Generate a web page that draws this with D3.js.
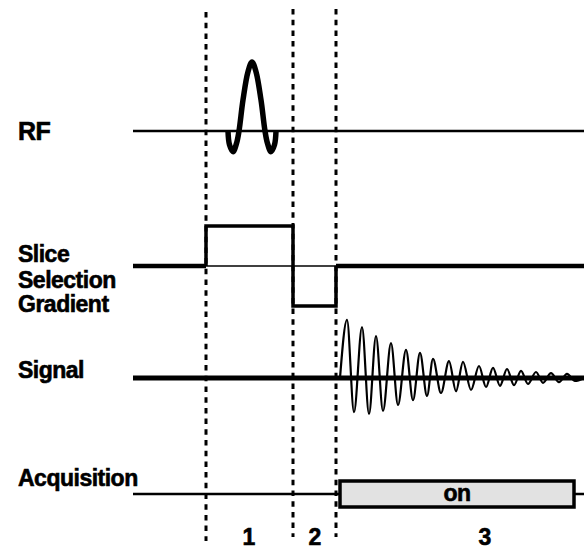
<!DOCTYPE html>
<html><head><meta charset="utf-8">
<script src="https://cdn.jsdelivr.net/npm/d3@7"></script>
<style>html,body{margin:0;padding:0;background:#fff;} svg{display:block}</style>
</head><body><svg id="c" width="584" height="550"></svg>
<script>
// ---- data (time in arbitrary units, amplitudes normalised) ----
const timeExtent = [0, 451];
const phaseBoundaries = [73, 160, 203];
const phaseLabels = ["1", "2", "3"];
const phaseCenters = [116, 182, 352];

const rowLabels = ["RF", "Slice", "Selection", "Gradient", "Signal", "Acquisition"];

// RF sinc pulse
const rfTimes = [95, 96.5, 100, 103.5, 106, 110, 115, 119, 123, 128, 132, 134.5, 138, 141.5, 143];
const rfAmps  = [0, -0.2, -0.3, -0.18, 0, 0.45, 0.86, 1, 0.86, 0.45, 0, -0.18, -0.3, -0.2, 0];

// Slice selection gradient (step after)
const gradTimes = [73, 160, 203];
const gradAmps  = [1, -1, 0];

// FID signal extremes
const sigTimes = [207, 214, 221, 229, 236, 243, 250, 258, 265, 273, 280, 287, 294, 300, 308, 316, 323,
                  330, 338, 346, 353, 360, 367, 374, 381, 388, 395, 403, 410, 418, 426, 434, 442, 451];
const sigAmps  = [0, 0.97, -0.57, 0.85, -0.6, 0.70, -0.55, 0.58, -0.45, 0.47, -0.37, 0.42, -0.30, 0.32, -0.25, 0.28, -0.22,
                  0.27, -0.20, 0.20, -0.15, 0.17, -0.13, 0.15, -0.12, 0.12, -0.10, 0.10, -0.08, 0.08, -0.07, 0.07, -0.05, 0];

// Acquisition window
const acqWindow = [207, 441];
const acqLabel = "on";

// ---- layout ----
const svg = d3.select("#c");
const x = d3.scaleLinear().domain(timeExtent).range([133, 584]);
const yRF = d3.scaleLinear().domain([-1, 1]).range([131 + 69, 131 - 69]);
const yGrad = d3.scaleLinear().domain([-1, 1]).range([306, 226]);
const ySig = d3.scaleLinear().domain([-1, 1]).range([438, 318]);
const yAcq = 494;
const font = "'Liberation Sans', Arial, Helvetica, sans-serif";

// dashed phase boundaries
svg.append("g").selectAll("line").data(phaseBoundaries).join("line")
  .attr("x1", d => x(d)).attr("x2", d => x(d))
  .attr("y1", (d, i) => i === 0 ? 12 : 9)
  .attr("y2", (d, i) => i === 0 ? 541 : 537)
  .attr("stroke", "#000").attr("stroke-width", 3)
  .attr("stroke-dasharray", "5.5,5.2");

// RF
svg.append("line").attr("x1", x(0)).attr("x2", x(timeExtent[1]))
  .attr("y1", yRF(0)).attr("y2", yRF(0)).attr("stroke", "#000").attr("stroke-width", 2.5);
svg.append("path")
  .datum(rfTimes.map((t, i) => [t, rfAmps[i]]))
  .attr("d", d3.line().x(d => x(d[0])).y(d => yRF(d[1])).curve(d3.curveCatmullRom.alpha(0.5)))
  .attr("fill", "none").attr("stroke", "#000").attr("stroke-width", 5.5)
  .attr("stroke-linejoin", "round").attr("stroke-linecap", "butt");

// Gradient
svg.append("line").attr("x1", x(gradTimes[0])).attr("x2", x(gradTimes[2]))
  .attr("y1", yGrad(0)).attr("y2", yGrad(0)).attr("stroke", "#000").attr("stroke-width", 1.5);
svg.append("line").attr("x1", x(0)).attr("x2", x(gradTimes[0]))
  .attr("y1", yGrad(0)).attr("y2", yGrad(0)).attr("stroke", "#000").attr("stroke-width", 4.5);
svg.append("line").attr("x1", x(gradTimes[2])).attr("x2", x(timeExtent[1]))
  .attr("y1", yGrad(0)).attr("y2", yGrad(0)).attr("stroke", "#000").attr("stroke-width", 4.5);
const gradPts = [[gradTimes[0], 0]].concat(gradTimes.map((t, i) => [t, gradAmps[i]]));
svg.append("path")
  .datum(gradPts)
  .attr("d", d3.line().x(d => x(d[0])).y(d => yGrad(d[1])).curve(d3.curveStepAfter))
  .attr("fill", "none").attr("stroke", "#000").attr("stroke-width", 3.5).attr("stroke-linejoin", "miter");

// Signal
svg.append("line").attr("x1", x(0)).attr("x2", x(timeExtent[1]))
  .attr("y1", ySig(0)).attr("y2", ySig(0)).attr("stroke", "#000").attr("stroke-width", 5);
svg.append("path")
  .datum(sigTimes.map((t, i) => [t, sigAmps[i]]))
  .attr("d", d3.line().x(d => x(d[0])).y(d => ySig(d[1])).curve(d3.curveMonotoneX))
  .attr("fill", "none").attr("stroke", "#000").attr("stroke-width", 2.2);

// Acquisition
svg.append("line").attr("x1", x(0)).attr("x2", x(timeExtent[1]))
  .attr("y1", yAcq).attr("y2", yAcq).attr("stroke", "#000").attr("stroke-width", 2.5);
svg.append("rect")
  .attr("x", x(acqWindow[0])).attr("y", yAcq - 13)
  .attr("width", x(acqWindow[1]) - x(acqWindow[0])).attr("height", 26)
  .attr("fill", "#e2e2e2").attr("stroke", "#000").attr("stroke-width", 3.5);
svg.append("text").text(acqLabel)
  .attr("x", x((acqWindow[0] + acqWindow[1]) / 2)).attr("y", yAcq + 7)
  .attr("text-anchor", "middle").attr("font-family", font).attr("font-weight", "bold")
  .attr("font-size", 23).attr("letter-spacing", -0.5)
  .attr("stroke", "#000").attr("stroke-width", 0.6);

// Row labels
const labelY = [140, 262, 288, 312, 378, 486];
svg.append("g").selectAll("text").data(rowLabels).join("text")
  .text(d => d)
  .attr("x", 18).attr("y", (d, i) => labelY[i])
  .attr("font-family", font).attr("font-weight", "bold")
  .attr("font-size", (d, i) => i === 0 ? 25 : 23).attr("letter-spacing", -0.5)
  .attr("stroke", "#000").attr("stroke-width", 0.6);

// Phase numbers
svg.append("g").selectAll("text").data(phaseLabels).join("text")
  .text(d => d)
  .attr("x", (d, i) => x(phaseCenters[i])).attr("y", 545)
  .attr("text-anchor", "middle").attr("font-family", font).attr("font-weight", "bold")
  .attr("font-size", 23).attr("stroke", "#000").attr("stroke-width", 0.6);
</script></body></html>
